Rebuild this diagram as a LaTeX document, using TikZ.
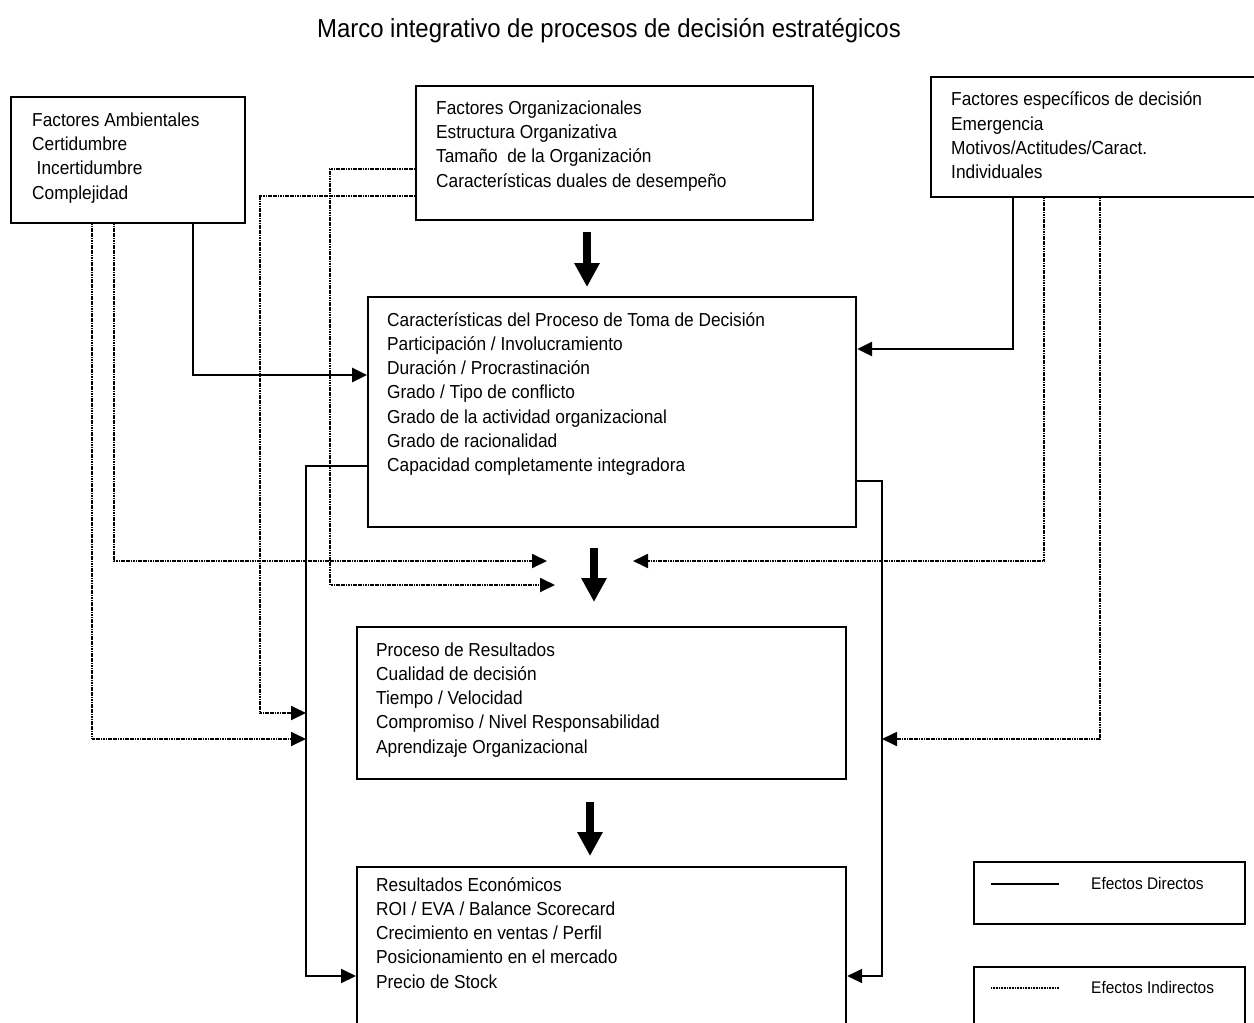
\documentclass[tikz,border=0pt]{standalone}
\usepackage{fontspec}
\setmainfont{Liberation Sans}[FakeStretch=0.92]
\usetikzlibrary{arrows.meta}
\begin{document}
\begin{tikzpicture}[x=1pt,y=-1pt,
  box/.style={draw, line width=2.2pt, anchor=north west, inner sep=0pt},
  % multi-line texts are placed by the baseline of their last line
  txt/.style={anchor=base west, align=left, inner sep=0pt,
              font=\fontsize{18.8}{24.25}\selectfont},
  legtxt/.style={anchor=base west, inner sep=0pt,
              font=\fontsize{16.8}{20}\selectfont},
  tip/.style={-{Triangle[length=15pt,width=14pt]}},
  direct/.style={line width=2pt, tip},
  heavy/.style={line width=2.7pt},
  indirect/.style={line width=1.8pt, dash pattern=on 1.2pt off 0.5pt, tip},
  blockarrow/.style={line width=8pt, -{Triangle[length=24pt,width=24pt]}}]

% page frame
\fill[white] (0,0) rectangle (1254,1023);
\useasboundingbox (0,0) rectangle (1254,1023);

% title
\node[font=\fontsize{26}{30}\selectfont, anchor=base] (title) at (609,37)
  {Marco integrativo de procesos de decisión estratégicos};

% boxes
\node[box, minimum width=234pt, minimum height=126pt] (A) at (10,96) {};
\node[box, minimum width=397pt, minimum height=134pt] (B) at (415,85) {};
\node[box, minimum width=340pt, minimum height=120pt] (C) at (930,76) {};
\node[box, minimum width=488pt, minimum height=230pt] (D) at (367,296) {};
\node[box, minimum width=489pt, minimum height=152pt] (E) at (356,626) {};
\node[box, minimum width=489pt, minimum height=170pt] (F) at (356,866) {};

% box texts
\node[txt] (Atext) at (32,199) {Factores Ambientales\\Certidumbre\\\hspace{4.5pt}Incertidumbre\\Complejidad};
\node[txt] (Btext) at (436,187) {Factores Organizacionales\\Estructura Organizativa\\Tamaño\ \ de la Organización\\Características duales de desempeño};
\node[txt] (Ctext) at (951,178.5) {Factores específicos de decisión\\Emergencia\\Motivos/Actitudes/Caract.\\Individuales};
\node[txt] (Dtext) at (387,471.5) {Características del Proceso de Toma de Decisión\\Participación / Involucramiento\\Duración / Procrastinación\\Grado / Tipo de conflicto\\Grado de la actividad organizacional\\Grado de racionalidad\\Capacidad completamente integradora};
\node[txt] (Etext) at (376,753) {Proceso de Resultados\\Cualidad de decisión\\Tiempo / Velocidad\\Compromiso / Nivel Responsabilidad\\Aprendizaje Organizacional};
\node[txt] (Ftext) at (376,988) {Resultados Económicos\\ROI / EVA / Balance Scorecard\\Crecimiento en ventas / Perfil\\Posicionamiento en el mercado\\Precio de Stock};

% legend
\node[box, line width=1.8pt, minimum width=271pt, minimum height=62pt] (L1) at (973,861) {};
\node[box, line width=1.8pt, minimum width=271pt, minimum height=70pt] (L2) at (973,966) {};
\coordinate (l1a) at (991,884);  \coordinate (l1b) at (1059,884);
\coordinate (l2a) at (991,988);  \coordinate (l2b) at (1059,988);
\draw[line width=1.7pt] (l1a) -- (l1b);
\draw[line width=1.5pt, dash pattern=on 1pt off 0.6pt] (l2a) -- (l2b);
\node[legtxt] (L1text) at (1091,889) {Efectos Directos};
\node[legtxt] (L2text) at (1091,993) {Efectos Indirectos};

% thick flow arrows between the stages
\coordinate (b1s) at (587,232); \coordinate (b1e) at (587,287);
\coordinate (b2s) at (594,548); \coordinate (b2e) at (594,602);
\coordinate (b3s) at (590,802); \coordinate (b3e) at (590,856);
\draw[blockarrow] (b1s) -- (b1e);
\draw[blockarrow] (b2s) -- (b2e);
\draw[blockarrow] (b3s) -- (b3e);

% arrow ends that meet other connectors or free space
\coordinate (mL1) at (547,561);
\coordinate (mL2) at (555,585);
\coordinate (mR)  at (633,561);
\coordinate (jL1) at (306,713);
\coordinate (jL2) at (306,739);
\coordinate (jR)  at (882,739);

% direct effects
\draw[direct, heavy] (A.south -| 193,0) |- (D.west |- 0,375);
\draw[direct, heavy] (C.south -| 1013,0) |- (D.east |- 0,349);
\draw[direct] (D.west |- 0,466) -- (306,466) |- (F.west |- 0,976);
\draw[direct] (D.east |- 0,481) -- (882,481) |- (F.east |- 0,976);

% indirect effects
\draw[indirect] (A.south -| 92,0) |- (jL2);
\draw[indirect] (A.south -| 114,0) |- (mL1);
\draw[indirect] (B.west |- 0,169) -| (330,585) -- (mL2);
\draw[indirect] (B.west |- 0,196) -| (260,713) -- (jL1);
\draw[indirect] (C.south -| 1044,0) |- (mR);
\draw[indirect] (C.south -| 1100,0) |- (jR);
\end{tikzpicture}
\end{document}
